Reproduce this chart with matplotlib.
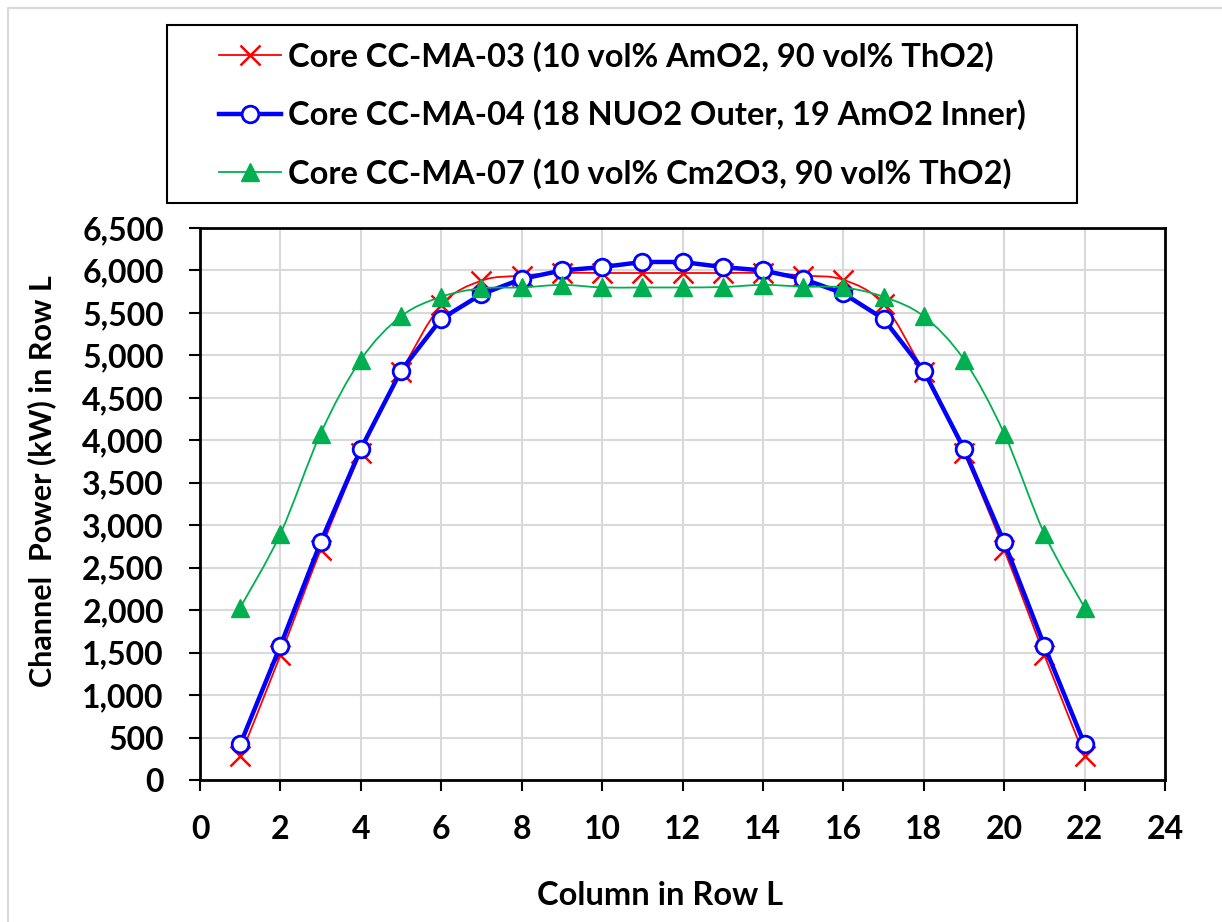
import numpy as np
import matplotlib
matplotlib.use('Agg')
import matplotlib.pyplot as plt
from matplotlib.path import Path
from matplotlib.patches import PathPatch, Rectangle
from matplotlib.lines import Line2D
from matplotlib.ticker import FuncFormatter, MultipleLocator

plt.rcParams['font.family'] = ['Lato', 'DejaVu Sans']
plt.rcParams['font.weight'] = 'bold'

# data
columns = list(range(1, 23))
ma03 = [280, 1470, 2710, 3850, 4800, 5590, 5880, 5940, 5970, 5970, 5970,
        5970, 5970, 5970, 5940, 5890, 5600, 4800, 3850, 2710, 1470, 280]
ma04 = [420, 1580, 2800, 3900, 4820, 5430, 5720, 5900, 6000, 6040, 6100,
        6100, 6040, 6000, 5900, 5730, 5430, 4820, 3900, 2800, 1580, 420]
ma07 = [2030, 2900, 4080, 4950, 5460, 5690, 5790, 5800, 5830, 5800, 5800,
        5800, 5805, 5830, 5810, 5800, 5690, 5460, 4950, 4080, 2900, 2030]

labels = ['Core CC-MA-03 (10 vol% AmO2, 90 vol% ThO2)',
          'Core CC-MA-04 (18 NUO2 Outer, 19 AmO2 Inner)',
          'Core CC-MA-07 (10 vol% Cm2O3, 90 vol% ThO2)']

RED = '#ff0000'
BLUE = '#0000ff'
GREEN = '#00b050'
W, H = 1222, 922


def smooth_path(x, y):
    # Excel-like smoothed line: Catmull-Rom segments as cubic Bezier curves
    x = np.asarray(x, float)
    y = np.asarray(y, float)
    n = len(x)
    verts = [(x[0], y[0])]
    codes = [Path.MOVETO]
    for i in range(n - 1):
        i0 = max(i - 1, 0)
        i3 = min(i + 2, n - 1)
        c1 = (x[i] + (x[i + 1] - x[i0]) / 6, y[i] + (y[i + 1] - y[i0]) / 6)
        c2 = (x[i + 1] - (x[i3] - x[i]) / 6, y[i + 1] - (y[i3] - y[i]) / 6)
        verts += [c1, c2, (x[i + 1], y[i + 1])]
        codes += [Path.CURVE4] * 3
    return Path(verts, codes)


fig = plt.figure(figsize=(W / 100, H / 100), dpi=100)
ax = fig.add_axes([200 / W, 142 / H, 965 / W, 552 / H])

# red: smoothed
ax.add_patch(PathPatch(smooth_path(columns, ma03), fill=False, edgecolor=RED, lw=1.3, zorder=3))
ax.plot(columns, ma03, ls='none', marker='x', ms=14, mew=1.8, color=RED, zorder=3)

# blue: straight segments
ax.plot(columns, ma04, color=BLUE, lw=3.2, marker='o', ms=12, mfc='white', mec=BLUE, mew=2, zorder=4)

# green: smoothed
ax.add_patch(PathPatch(smooth_path(columns, ma07), fill=False, edgecolor=GREEN, lw=1.3, zorder=5))
ax.plot(columns, ma07, ls='none', marker='^', ms=13, color=GREEN, zorder=5)

ax.set_xlim(0, 24)
ax.set_ylim(0, 6500)
ax.xaxis.set_major_locator(MultipleLocator(2))
ax.yaxis.set_major_locator(MultipleLocator(500))
ax.yaxis.set_major_formatter(FuncFormatter(lambda v, p: f'{int(v):,}'))
ax.grid(True, color='#d9d9d9', lw=1.5, zorder=0)
ax.set_axisbelow(True)

for s in ax.spines.values():
    s.set_linewidth(2)
    s.set_color('black')

ax.tick_params(axis='both', direction='out', length=8, width=1.5, labelsize=23, colors='black')
ax.tick_params(axis='y', pad=18)
ax.tick_params(axis='x', pad=17)

ax.set_xlabel('Column in Row L', fontsize=23.5, fontweight='bold', va='center')
ax.xaxis.set_label_coords((660 - 200) / 965, -(895 - 780) / 552)
ax.set_ylabel('Channel  Power (kW) in Row L', fontsize=22, fontweight='bold', va='center')
ax.yaxis.set_label_coords(-(200 - 42) / 965, (780 - 481) / 552)

# legend: frame drawn separately to match the wide left inset
fig.add_artist(Rectangle((167 / W, 1 - 203 / H), (1077 - 167) / W, (203 - 25) / H,
                         transform=fig.transFigure, fill=False, edgecolor='black', lw=1.5))
handles = [
    Line2D([], [], color=RED, lw=1.3, marker='x', ms=14, mew=1.8),
    Line2D([], [], color=BLUE, lw=3.2, marker='o', ms=12, mfc='white', mec=BLUE, mew=2),
    Line2D([], [], color=GREEN, lw=1.3, marker='^', ms=13),
]
leg = fig.legend(handles, labels, loc='upper left', bbox_to_anchor=(219 / W, 1 - 41 / H),
                 fontsize=23.5, frameon=False, handlelength=1.9, handletextpad=0.22,
                 labelspacing=0.85, borderpad=0, borderaxespad=0)
for t in leg.get_texts():
    t.set_fontweight('bold')

# chart area border (top and left edges visible)
fig.add_artist(Line2D([8 / W, 8 / W, 1], [0, 1 - 8 / H, 1 - 8 / H],
                      transform=fig.transFigure, color='#d9d9d9', lw=1.5))

fig.savefig('out.png', dpi=100)
